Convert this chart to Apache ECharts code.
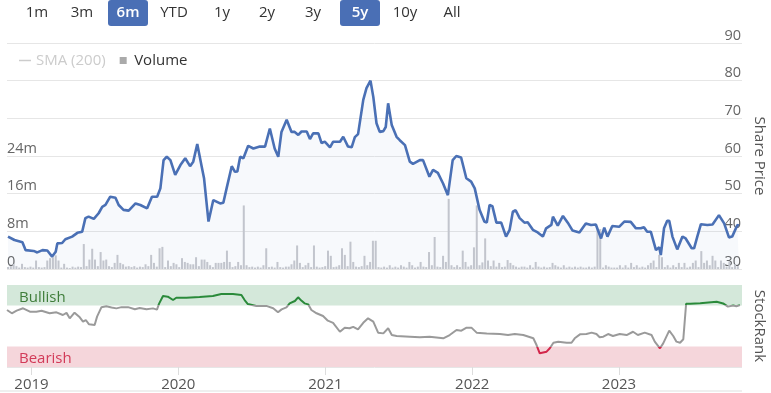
<!DOCTYPE html>
<html><head><meta charset="utf-8">
<script src="https://cdn.jsdelivr.net/npm/echarts@6/dist/echarts.min.js"></script>
<style>html,body{margin:0;padding:0;background:#fff}#c{width:771px;height:393px}</style>
</head><body><div id="c"></div>
<script>
// ---------- data ----------
const rangeButtons = ['1m','3m','6m','YTD','1y','2y','3y','5y','10y','All'];
const activeButtons = ['6m','5y'];

const priceDates = [
'2018-11-01','2018-11-17','2018-12-07','2018-12-15','2019-01-04','2019-01-13','2019-01-26','2019-02-07','2019-02-19','2019-02-28',
'2019-03-04','2019-03-16','2019-03-24','2019-04-10','2019-04-23','2019-05-05','2019-05-13','2019-05-21','2019-06-03','2019-06-15',
'2019-06-24','2019-07-02','2019-07-14','2019-07-27','2019-08-04','2019-08-16','2019-08-29','2019-09-15','2019-09-27','2019-10-14',
'2019-10-26','2019-11-08','2019-11-16','2019-11-24','2019-12-02','2019-12-11','2019-12-23','2020-01-05','2020-01-17','2020-01-29',
'2020-02-06','2020-02-16','2020-02-27','2020-03-04','2020-03-15','2020-03-27','2020-04-13','2020-04-21','2020-04-30','2020-05-12',
'2020-05-20','2020-05-26','2020-06-02','2020-06-10','2020-06-22','2020-07-05','2020-07-21','2020-08-03','2020-08-15','2020-08-27',
'2020-09-05','2020-09-13','2020-09-26','2020-10-08','2020-10-16','2020-10-25','2020-11-02','2020-11-15','2020-11-23','2020-12-01',
'2020-12-14','2020-12-22','2020-12-30','2021-01-12','2021-01-20','2021-02-06','2021-02-14','2021-02-26','2021-03-07','2021-03-15',
'2021-03-23','2021-04-05','2021-04-13','2021-04-23','2021-04-30','2021-05-08','2021-05-16','2021-05-25','2021-05-31','2021-06-06',
'2021-06-15','2021-06-27','2021-07-05','2021-07-18','2021-07-30','2021-08-07','2021-08-24','2021-09-01','2021-09-17','2021-09-26',
'2021-10-08','2021-10-21','2021-11-02','2021-11-14','2021-11-23','2021-12-05','2021-12-18','2021-12-30','2022-01-08','2022-01-20',
'2022-02-01','2022-02-07','2022-02-14','2022-02-21','2022-03-03','2022-03-15','2022-03-27','2022-04-05','2022-04-13','2022-04-20',
'2022-04-30','2022-05-12','2022-05-20','2022-06-02','2022-06-14','2022-06-27','2022-07-05','2022-07-18','2022-07-22','2022-07-26',
'2022-08-03','2022-08-16','2022-08-28','2022-09-09','2022-09-26','2022-10-12','2022-10-25','2022-11-06','2022-11-19','2022-11-27',
'2022-12-05','2022-12-17','2023-01-03','2023-01-16','2023-02-01','2023-02-14','2023-02-26','2023-03-06','2023-03-14','2023-03-23',
'2023-04-05','2023-04-13','2023-04-17','2023-04-25','2023-05-03','2023-05-08','2023-05-16','2023-05-28','2023-06-10','2023-06-18',
'2023-07-03','2023-07-09','2023-07-17','2023-07-26','2023-08-11','2023-08-24','2023-09-09','2023-09-22','2023-10-04','2023-10-12',
'2023-10-25','2023-10-29'];
const priceValues = [
38.6,37.7,37.1,35.0,34.8,34.4,35.0,34.9,33.3,34.6,
36.8,36.9,37.9,38.6,39.6,39.9,43.5,43.9,43.3,44.8,
46.5,47.0,49.2,48.9,47.0,45.7,45.5,47.4,47.0,46.1,
49.2,49.2,51.4,58.9,59.8,58.9,55.0,57.6,59.4,57.3,
58.5,63.2,57.2,54.0,42.6,48.3,47.4,47.6,51.8,57.3,
55.8,55.9,59.8,59.4,62.7,62.0,62.5,62.5,67.3,62.0,
59.8,66.4,69.6,66.4,66.4,65.6,66.5,66.5,64.5,66.0,
66.0,63.4,63.8,62.3,63.8,63.8,65.1,62.5,62.3,65.0,
65.8,74.9,78.0,80.0,75.7,68.7,66.4,66.6,67.7,74.0,
68.2,65.1,64.2,62.9,58.5,57.9,58.9,58.9,54.5,56.3,
55.5,52.7,49.6,58.9,60.0,59.6,54.1,53.2,51.4,45.7,
42.6,42.3,47.0,46.7,42.3,42.3,38.6,40.4,45.2,45.6,
43.5,42.3,42.4,40.4,39.7,38.6,40.8,41.7,43.9,44.2,
41.5,44.1,42.3,40.2,39.7,42.1,41.7,41.8,38.1,41.0,
38.6,41.4,41.2,42.6,42.5,40.8,40.8,41.1,39.9,39.9,
35.0,35.8,33.7,40.8,42.8,42.8,38.6,35.2,38.6,38.1,
35.5,35.5,38.6,41.9,41.7,41.8,44.3,42.1,38.4,38.6,
41.7,41.5];

// weekly volume (millions), first week starting volumeStart
const volumeStart = '2018-11-01';
const volumeValues = [
0.4,0.6,1.1,0.6,0.3,1.1,0.4,0.3,0.5,0.3,
1.8,0.4,0.3,0.4,1.8,2.3,2.5,2.9,1.8,0.3,
1.1,0.3,0.2,0.5,0.3,0.5,0.4,5.3,0.6,2.0,
4.3,2.0,0.6,3.6,1.8,2.0,0.6,0.4,1.3,3.0,
1.3,1.0,0.5,0.6,0.4,0.6,0.3,0.5,0.4,1.0,
0.6,3.0,1.3,0.5,4.4,4.7,0.4,1.8,0.6,1.3,
1.0,0.4,2.3,1.5,1.3,1.0,1.0,2.5,0.6,2.0,
2.0,1.5,0.8,0.4,1.3,1.3,1.3,1.5,3.9,1.5,
0.4,0.6,1.5,0.8,13.5,0.8,0.4,0.5,0.3,0.5,
0.3,0.8,4.4,0.4,0.5,0.3,1.5,0.4,0.3,0.5,
0.5,1.0,1.8,5.0,1.3,0.4,0.8,1.3,0.4,5.0,
0.5,0.3,0.4,0.6,3.9,2.8,0.4,0.5,0.8,4.4,
3.0,0.6,5.8,1.5,0.5,0.4,0.6,2.8,0.8,1.5,
6.0,6.0,0.4,0.3,0.5,0.3,0.8,0.3,0.5,0.3,
0.8,0.5,0.3,1.5,0.8,0.3,0.5,1.5,0.5,0.4,
3.6,0.8,6.8,0.5,0.4,2.8,1.5,14.9,0.8,0.4,
0.8,0.4,3.9,1.5,0.5,0.8,4.6,13.5,0.8,1.4,
6.5,1.8,0.6,1.8,0.5,1.3,0.4,0.5,1.9,1.3,
0.8,0.5,0.3,0.5,0.5,0.3,0.8,0.3,1.5,0.5,
0.3,0.5,0.3,0.4,1.3,0.8,0.5,0.3,0.8,0.3,
0.5,0.3,0.5,0.3,0.5,0.3,0.3,0.5,0.3,0.5,
8.5,8.5,0.3,0.8,0.5,0.3,0.3,0.3,0.8,0.3,
0.8,0.3,1.3,0.4,0.8,0.3,0.5,0.3,0.8,1.3,
1.8,0.4,3.0,2.5,0.4,0.8,0.3,0.8,0.4,1.3,
0.4,1.3,0.3,0.5,1.3,1.8,0.4,3.8,1.3,1.8,
0.8,2.8,1.8,0.4,1.8,1.3,0.5,1.5,0.4,1.0,
0.6];

const rankDates = [
'2018-11-01','2018-11-13','2018-11-25','2018-12-11','2018-12-28','2019-01-13','2019-01-26','2019-02-15','2019-03-04','2019-03-20',
'2019-03-29','2019-04-06','2019-04-18','2019-05-01','2019-05-09','2019-05-16','2019-05-24','2019-06-07','2019-06-13','2019-06-24',
'2019-07-06','2019-07-19','2019-07-31','2019-08-13','2019-08-29','2019-09-15','2019-09-27','2019-10-14','2019-10-30','2019-11-09',
'2019-11-14','2019-11-24','2019-12-06','2019-12-19','2019-12-27','2020-01-21','2020-02-23','2020-03-27','2020-04-17','2020-05-16',
'2020-06-06','2020-06-14','2020-06-22','2020-07-13','2020-08-07','2020-08-24','2020-09-05','2020-09-14','2020-09-26','2020-10-04',
'2020-10-17','2020-10-25','2020-11-02','2020-11-10','2020-11-19','2020-11-27','2020-12-10','2020-12-26','2021-01-07','2021-01-20',
'2021-02-06','2021-02-18','2021-03-02','2021-03-11','2021-03-23','2021-04-05','2021-04-17','2021-04-30','2021-05-12','2021-05-25',
'2021-06-06','2021-06-15','2021-06-27','2021-07-30','2021-08-24','2021-09-17','2021-10-21','2021-11-06','2021-11-23','2021-12-05',
'2021-12-18','2021-12-30','2022-01-12','2022-02-06','2022-03-11','2022-03-31','2022-04-17','2022-05-08','2022-06-02','2022-06-10',
'2022-06-18','2022-07-05','2022-07-13','2022-07-22','2022-08-03','2022-08-24','2022-09-05','2022-09-13','2022-09-26','2022-10-12',
'2022-10-25','2022-11-06','2022-11-14','2022-11-23','2022-12-05','2022-12-17','2023-01-03','2023-01-20','2023-02-05','2023-02-17',
'2023-03-06','2023-03-23','2023-03-31','2023-04-13','2023-04-21','2023-05-06','2023-05-16','2023-05-24','2023-06-02','2023-06-10',
'2023-06-17','2023-06-27','2023-07-22','2023-09-01','2023-09-17','2023-09-29','2023-10-12','2023-10-20','2023-10-29'];
const rankValues = [
69.5,65.5,68.7,71.6,67.5,67.5,68.5,65.5,66.7,63.4,
66.0,59.4,66.3,60.6,55.3,57.3,52.0,51.2,61.4,73.0,
74.0,72.5,71.5,73.0,73.0,70.5,72.0,70.5,71.5,70.0,
77.0,86.6,85.8,81.7,84.5,84.5,85.4,86.6,89.0,89.0,
87.8,81.7,76.8,74.5,74.5,71.6,66.7,70.3,72.8,77.6,
80.5,85.0,81.0,77.6,76.4,69.5,65.5,62.2,56.5,53.9,
43.0,47.9,47.2,49.0,46.0,53.9,59.4,55.3,41.9,41.0,
47.2,39.0,37.8,37.0,36.2,37.0,35.0,39.0,45.1,44.3,
48.0,48.0,41.9,41.0,40.2,39.0,40.2,39.0,35.0,26.8,
16.7,18.7,22.8,29.6,30.9,29.6,29.6,35.0,39.8,40.2,
41.9,40.2,36.2,37.0,40.2,37.8,40.2,39.0,43.0,39.0,
41.9,39.0,30.9,22.8,28.8,44.3,37.8,30.9,29.6,33.8,
77.0,77.0,77.8,79.5,77.5,73.6,75.0,74.0,75.5];

const priceTicks = {min: 30, max: 90, step: 10};
const volumeTicks = {min: 0, max: 48e6, step: 8e6, labelMax: 24e6};

// ---------- build ----------
const FONT = '"Open Sans", "Noto Sans", sans-serif';
const pricePairs = priceDates.map((d, i) => [d, priceValues[i]]);
const rankPairs = rankDates.map((d, i) => [d, rankValues[i]]);
const DAY = 86400000;
const v0 = new Date(volumeStart + 'T00:00:00Z').getTime();
const volumePairs = volumeValues.map((v, i) => [v0 + i * 7 * DAY, v * 1e6]);

const xMin = '2018-11-01', xMax = '2023-11-03';
const btnCenters = [37, 82, 128, 174, 222, 267, 313, 360, 405, 452];
const graphics = [];
rangeButtons.forEach((b, i) => {
  const on = activeButtons.includes(b);
  if (on) graphics.push({type: 'rect', shape: {x: btnCenters[i] - 20, y: 0, width: 40, height: 26, r: 3}, style: {fill: '#4a6fb5'}});
  graphics.push({type: 'text', x: btnCenters[i], y: 13, style: {text: b, align: 'center', verticalAlign: 'middle', fill: on ? '#fff' : '#333', font: (on ? '600 ' : '') + '15px ' + FONT}});
});
graphics.push({type: 'rect', shape: {x: 0, y: 390, width: 742, height: 2}, style: {fill: '#efefef'}});

const chart = echarts.init(document.getElementById('c'), null, {renderer: 'canvas'});
chart.setOption({
  animation: false,
  backgroundColor: '#fff',
  textStyle: {fontFamily: FONT},
  graphic: graphics,
  legend: {
    left: 14, top: 48, itemWidth: 12, itemHeight: 7, itemGap: 14,
    inactiveColor: '#ccc', symbolKeepAspect: true,
    textStyle: {fontSize: 15, color: '#333', fontFamily: FONT},
    data: [{name: 'SMA (200)', icon: 'path://M0,0L12,0L12,1.5L0,1.5Z'},
           {name: 'Volume', icon: 'path://M0,0L6,0L6,6L0,6Z', itemStyle: {color: '#aaa'}}],
    selected: {'SMA (200)': false}
  },
  grid: [
    {left: 7, right: 29, top: 43, height: 226, outerBoundsMode: 'none'},
    {left: 7, right: 29, top: 285, height: 82, outerBoundsMode: 'none'}
  ],
  xAxis: [
    {type: 'time', gridIndex: 0, min: xMin, max: xMax, show: false},
    {type: 'time', gridIndex: 1, min: xMin, max: xMax, splitNumber: 5,
     axisLine: {show: false},
     axisTick: {show: true, length: 8, lineStyle: {color: '#ddd'}},
     splitLine: {show: false},
     axisLabel: {color: '#555', fontSize: 15, margin: 10, fontFamily: FONT, showMinLabel: false, showMaxLabel: false,
       formatter: v => String(new Date(v).getFullYear())}}
  ],
  yAxis: [
    {type: 'value', gridIndex: 0, position: 'right', min: priceTicks.min, max: priceTicks.max, interval: priceTicks.step,
     axisLine: {show: false}, axisTick: {show: false},
     splitLine: {show: true, lineStyle: {color: '#e6e6e6', width: 1}},
     axisLabel: {inside: true, margin: 1, color: '#666', fontSize: 14.5, fontFamily: FONT, verticalAlign: 'bottom'},
     name: 'Share Price', nameLocation: 'middle', nameRotate: -90, nameGap: 10,
     nameTextStyle: {color: '#555', fontSize: 15, fontFamily: FONT}},
    {type: 'value', gridIndex: 0, position: 'left', min: volumeTicks.min, max: volumeTicks.max, interval: volumeTicks.step,
     axisLine: {show: false}, axisTick: {show: false}, splitLine: {show: false},
     axisLabel: {inside: true, margin: 0, color: '#666', fontSize: 14.5, fontFamily: FONT, verticalAlign: 'bottom',
       formatter: v => v > volumeTicks.labelMax ? '' : (v === 0 ? '0' : (v / 1e6) + 'm')}},
    {type: 'value', gridIndex: 1, position: 'right', min: 0, max: 100, interval: 100,
     axisLine: {show: false}, axisTick: {show: false},
     splitLine: {show: true, lineStyle: {color: '#e6e6e6'}},
     axisLabel: {inside: true, margin: 1, color: '#666', fontSize: 14.5, fontFamily: FONT, verticalAlign: 'bottom',
       formatter: v => v === 0 ? '0' : ''},
     name: 'StockRank', nameLocation: 'middle', nameRotate: -90, nameGap: 10,
     nameTextStyle: {color: '#555', fontSize: 15, fontFamily: FONT}}
  ],
  visualMap: {
    type: 'piecewise', show: false, seriesIndex: 3, dimension: 1,
    pieces: [{lt: 25, color: '#d3264a'}, {gte: 25, lte: 75.5, color: '#9a9a9a'}, {gt: 75.5, color: '#2a8a3a'}]
  },
  series: [
    {name: 'Share Price', type: 'line', xAxisIndex: 0, yAxisIndex: 0, data: pricePairs, symbol: 'none', z: 4,
     lineStyle: {color: '#4a70b5', width: 2.6}, itemStyle: {color: '#4a70b5'},
     areaStyle: {color: 'rgba(74,112,181,0.06)', origin: 'start'}},
    {name: 'SMA (200)', type: 'line', xAxisIndex: 0, yAxisIndex: 0, data: [], symbol: 'none',
     lineStyle: {color: '#ccc', width: 2}, itemStyle: {color: '#ccc'}},
    {name: 'Volume', type: 'bar', xAxisIndex: 0, yAxisIndex: 1, data: volumePairs, barWidth: 2, z: 2,
     itemStyle: {color: '#c8c9ce'}},
    {name: 'StockRank', type: 'line', xAxisIndex: 1, yAxisIndex: 2, data: rankPairs, symbol: 'none',
     lineStyle: {width: 2},
     markArea: {silent: true,
       label: {show: true, position: 'insideLeft', fontSize: 15, fontFamily: FONT, offset: [7, 2]},
       data: [
         [{yAxis: 75, name: 'Bullish', itemStyle: {color: '#d4e8da'}, label: {color: '#3f7d3a'}}, {yAxis: 100}],
         [{yAxis: 0, name: 'Bearish', itemStyle: {color: '#f5d6db'}, label: {color: '#d23a58'}}, {yAxis: 25}]
       ]}}
  ]
});
</script></body></html>
